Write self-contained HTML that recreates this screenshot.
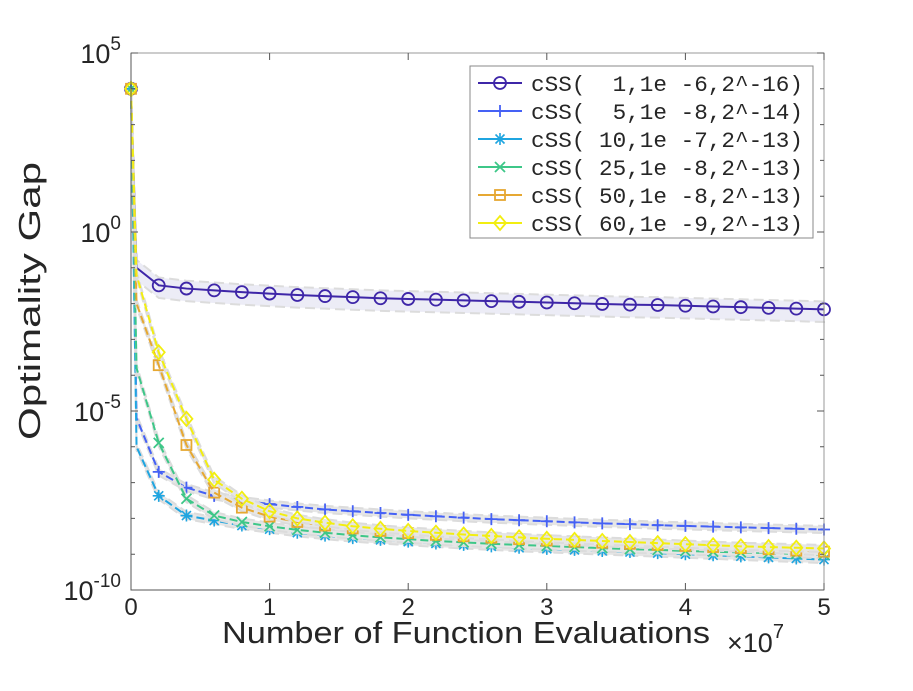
<!DOCTYPE html>
<html><head><meta charset="utf-8"><style>
body{margin:0;background:#fff;}
text{font-family:"Liberation Sans",sans-serif;fill:#262626;}
.mono{font-family:"Liberation Mono","DejaVu Sans Mono",monospace;}
</style></head><body>
<svg width="913" height="686" viewBox="0 0 913 686">
<g id="plot"></g>
<g id="axes"></g>
</svg>
<script>
const xs=[0,0.2,0.4,0.6,0.8,1,1.2,1.4,1.6,1.8,2,2.2,2.4,2.6,2.8,3,3.2,3.4,3.6,3.8,4,4.2,4.4,4.6,4.8,5];
const kneeX=0.04;
const knee=[-1.0,-5.2,-6.0,-3.8,-2.0,-1.2];
const s1=[4,-1.49,-1.58,-1.63,-1.68,-1.72,-1.76,-1.79,-1.82,-1.85,-1.87,-1.89,-1.91,-1.93,-1.95,-1.97,-1.99,-2.01,-2.03,-2.04,-2.06,-2.08,-2.10,-2.12,-2.14,-2.16];
const s5=[4,-6.7,-7.14,-7.37,-7.5,-7.6,-7.68,-7.75,-7.8,-7.85,-7.9,-7.94,-7.98,-8.02,-8.05,-8.08,-8.11,-8.14,-8.16,-8.19,-8.21,-8.23,-8.25,-8.27,-8.29,-8.31];
const s10=[4,-7.37,-7.92,-8.06,-8.2,-8.3,-8.4,-8.48,-8.55,-8.6,-8.65,-8.7,-8.74,-8.78,-8.82,-8.85,-8.88,-8.91,-8.94,-8.97,-9.0,-9.03,-9.06,-9.09,-9.12,-9.15];
const s25=[4,-5.89,-7.45,-7.92,-8.1,-8.22,-8.32,-8.4,-8.47,-8.53,-8.58,-8.63,-8.67,-8.71,-8.74,-8.77,-8.8,-8.83,-8.86,-8.88,-8.91,-8.93,-8.95,-8.97,-8.99,-9.01];
const s50=[4,-3.72,-5.95,-7.28,-7.7,-7.95,-8.1,-8.2,-8.28,-8.35,-8.41,-8.46,-8.5,-8.54,-8.58,-8.62,-8.65,-8.68,-8.71,-8.74,-8.77,-8.8,-8.83,-8.86,-8.9,-8.93];
const s60=[4,-3.36,-5.22,-6.92,-7.45,-7.8,-8.0,-8.12,-8.22,-8.29,-8.35,-8.4,-8.45,-8.49,-8.53,-8.57,-8.6,-8.63,-8.66,-8.69,-8.72,-8.75,-8.78,-8.8,-8.82,-8.84];
const labels=["cSS(  1,1e -6,2^-16)","cSS(  5,1e -8,2^-14)","cSS( 10,1e -7,2^-13)","cSS( 25,1e -8,2^-13)","cSS( 50,1e -8,2^-13)","cSS( 60,1e -9,2^-13)"];
const xTicks=[0,1,2,3,4,5];
const yTicks=[5,0,-5,-10];

const NS="http://www.w3.org/2000/svg";
const L=131,R=824,T=53,B=590;
const sx=v=>L+v*(R-L)/5;
const sy=v=>T+(5-v)*(B-T)/15;
function mk(tag,attrs,parent){const e=document.createElementNS(NS,tag);for(const k in attrs)e.setAttribute(k,attrs[k]);parent.appendChild(e);return e;}
const plot=document.getElementById('plot'),axes=document.getElementById('axes');
const series=[{d:s1,c:"#3e26a8",m:"o",band:0.22},{d:s5,c:"#4561f5",m:"+",band:0.1},{d:s10,c:"#1fa5e0",m:"*",band:0.1},{d:s25,c:"#3dc788",m:"x",band:0.1},{d:s50,c:"#e6a832",m:"s",band:0.1},{d:s60,c:"#f2ee10",m:"d",band:0.1}];
function marker(m,x,y,c,g){
  let e;
  if(m==="o")e=mk('circle',{cx:x,cy:y,r:6,fill:"none",stroke:c,"stroke-width":1.8},g);
  else if(m==="+")e=mk('path',{d:`M${x-6},${y}H${x+6}M${x},${y-6}V${y+6}`,stroke:c,"stroke-width":1.8},g);
  else if(m==="x")e=mk('path',{d:`M${x-5},${y-5}L${x+5},${y+5}M${x-5},${y+5}L${x+5},${y-5}`,stroke:c,"stroke-width":1.8},g);
  else if(m==="*")e=mk('path',{d:`M${x-6},${y}H${x+6}M${x},${y-6}V${y+6}M${x-4.5},${y-4.5}L${x+4.5},${y+4.5}M${x-4.5},${y+4.5}L${x+4.5},${y-4.5}`,stroke:c,"stroke-width":1.6},g);
  else if(m==="s")e=mk('rect',{x:x-5,y:y-5,width:10,height:10,fill:"none",stroke:c,"stroke-width":1.8},g);
  else e=mk('path',{d:`M${x},${y-7}L${x+6},${y}L${x},${y+7}L${x-6},${y}Z`,fill:"none",stroke:c,"stroke-width":1.8},g);
  return e;
}
series.forEach((s,k)=>{
  const g=mk('g',{},plot);
  
  
  const px=[xs[0],kneeX].concat(xs.slice(1));
  const pv=[s.d[0],knee[k]].concat(s.d.slice(1));
  const up=pv.map((v,i)=>sx(px[i])+","+sy(v+(i?s.band:0))).join(" ");
  const dn=pv.map((v,i)=>sx(px[i])+","+sy(v-(i?s.band*(k===0?1.6:1):0))).reverse().join(" ");
  const band=mk('polygon',{points:up+" "+dn,fill:k===0?"#ececf6":"#e6e6e6",stroke:"#dcdcdc","stroke-width":2,"stroke-dasharray":"10,5"},g);
  
  
  const pts=pv.map((v,i)=>sx(px[i])+","+sy(v)).join(" ");
  const line=mk('polyline',{points:pts,fill:"none",stroke:s.c,"stroke-width":2,"stroke-dasharray":k===0?"none":"8,4"},g);
  
  
  s.d.forEach((v,i)=>{const m=marker(s.m,sx(xs[i]),sy(v),s.c,g);
    
    });
});
const box=mk('rect',{x:L,y:T,width:R-L,height:B-T,fill:"none",stroke:"#999","stroke-width":1},axes);


mk('path',{d:`M${L},${T}V${B}H${R}`,fill:"none",stroke:"#555"},axes);
xTicks.forEach(t=>{
  mk('path',{d:`M${sx(t)},${B}v-7M${sx(t)},${T}v7`,stroke:"#555"},axes);
  const tx=mk('text',{x:sx(t),y:B+25,"text-anchor":"middle","font-size":24},axes);tx.textContent=t;
  
  
});
for(let v=-10;v<=5;v++){const len=yTicks.includes(v)?7:4;mk('path',{d:`M${L},${sy(v)}h${len}M${R},${sy(v)}h-${len}`,stroke:"#555"},axes);}
yTicks.forEach(t=>{
  const tx=mk('text',{x:L-10,y:sy(t)+10,"text-anchor":"end","font-size":27},axes);
  tx.innerHTML=`10<tspan dy="-13" font-size="19">${t}</tspan>`;
  
  
});
const yl=mk('text',{x:0,y:0,"text-anchor":"middle","font-size":31,textLength:278,lengthAdjust:"spacingAndGlyphs",transform:`translate(40,301) rotate(-90)`},axes);
yl.textContent="Optimality Gap";


const xl=mk('text',{x:222,y:643,"font-size":31,textLength:488,lengthAdjust:"spacingAndGlyphs"},axes);
xl.textContent="Number of Function Evaluations";


const ex=mk('text',{x:727,y:652,"font-size":27},axes);
ex.innerHTML='×10<tspan dy="-14" font-size="20">7</tspan>';


const lg=mk('g',{},axes);


mk('rect',{x:470,y:66,width:343,height:172,fill:"#fff",stroke:"#888","stroke-width":1},lg);
labels.forEach((lab,k)=>{
  const y=83+k*28,s=series[k];
  const ent=mk('g',{},lg);
  
  
  mk('path',{d:`M478,${y}H522`,stroke:s.c,"stroke-width":2},ent);
  marker(s.m,500,y,s.c,ent);
  const t=mk('text',{x:531,y:y+8,"font-size":22.5,textLength:272,lengthAdjust:"spacingAndGlyphs",class:"mono"},ent);t.textContent=lab;
  t.style.whiteSpace="pre";
});
</script>
</body></html>
